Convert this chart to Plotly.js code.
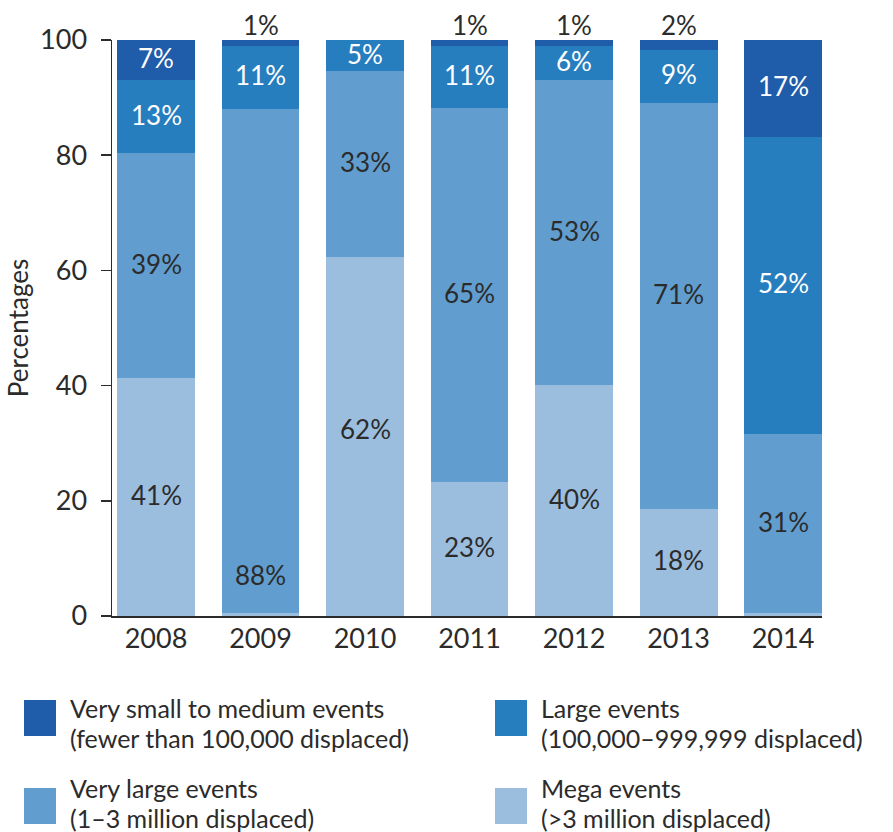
<!DOCTYPE html>
<html>
<head>
<meta charset="utf-8">
<script src="https://cdn.plot.ly/plotly-3.0.1.min.js"></script>
<style>html,body{margin:0;padding:0;background:#fff}#chart{width:893px;height:832px}</style>
</head>
<body>
<div id="chart"></div>
<script>
const years = ['2008','2009','2010','2011','2012','2013','2014'];
// measured segment heights (%)
const mega      = [41.3, 0.5, 62.3, 23.3, 40.1, 18.6, 0.5];
const veryLarge = [39.1, 87.5, 32.3, 64.9, 52.9, 70.5, 31.1];
const large     = [12.6, 11.0, 5.4, 10.8, 6.0, 9.2, 51.6];
const verySmall = [7.0, 1.0, 0, 1.0, 1.0, 1.7, 16.8];
// printed labels
const megaLbl      = ['41%', '', '62%', '23%', '40%', '18%', ''];
const veryLargeLbl = ['39%', '88%', '33%', '65%', '53%', '71%', '31%'];
const largeLbl     = ['13%', '11%', '5%', '11%', '6%', '9%', '52%'];
const verySmallLbl = ['7%', '1%', '', '1%', '1%', '2%', '17%'];

const seriesNames = ['Mega events', 'Very large events', 'Large events', 'Very small to medium events'];
const legendLine1 = ['Very small to medium events', 'Large events', 'Very large events', 'Mega events'];
const legendLine2 = ['(fewer than 100,000 displaced)', '(100,000\u2013999,999 displaced)', '(1\u20133 million displaced)', '(>3 million displaced)'];

const colors = {mega:'#9bbedf', vl:'#619ecf', large:'#267ebf', small:'#1f5caa'};
const FONT = 'Lato, "Liberation Sans", sans-serif';
const FS = 26;
const dark = '#2b2b2b';

const series = [
  {v: mega, l: megaLbl, c: colors.mega, tc: dark},
  {v: veryLarge, l: veryLargeLbl, c: colors.vl, tc: dark},
  {v: large, l: largeLbl, c: colors.large, tc: '#ffffff'},
  {v: verySmall, l: verySmallLbl, c: colors.small, tc: '#ffffff'}
];

const traces = series.map((s, i) => ({
  type: 'bar', x: years, y: s.v, name: seriesNames[i],
  marker: {color: s.c, line: {width: 0}}, showlegend: false, hoverinfo: 'skip'
}));

// label positions that sit off-centre in the original
const labelOverride = {'1-1': 6.8, '1-5': 55.6, '0-2': 32.1};
const annotations = [];
years.forEach((yr, j) => {
  let base = 0;
  series.forEach((s, i) => {
    const val = s.v[j];
    const txt = s.l[j];
    if (txt) {
      if (i === 3 && val < 3) {
        annotations.push({x: j, y: 100, xref:'x', yref:'y', text: txt, showarrow:false,
          yanchor:'bottom', yshift: -3, font:{family:FONT, size:FS, color:dark}});
      } else {
        const key = i + '-' + j;
        const yy = labelOverride[key] !== undefined ? labelOverride[key] : base + val/2;
        annotations.push({x: j, y: yy, xref:'x', yref:'y', text: txt, showarrow:false,
          yanchor:'middle', yshift: 2, font:{family:FONT, size:FS, color:s.tc}});
      }
    }
    base += val;
  });
});

// custom legend
const legColors = [colors.small, colors.large, colors.vl, colors.mega];
const W = 710, H = 576, L = 112, T = 40;
const px = x => (x - L) / W;
const py = y => (T + H - y) / H;
const shapes = [];
const legPos = [[24, 700], [495, 700], [24, 788], [495, 788]];
const LFS = 25;
legPos.forEach((p, k) => {
  shapes.push({type:'rect', xref:'paper', yref:'paper', x0: px(p[0]), x1: px(p[0]+32),
    y0: py(p[1]), y1: py(p[1]+36), fillcolor: legColors[k], line:{width:0}});
  const y1 = k < 2 ? p[1] + 8 : p[1];
  const y2 = y1 + 30;
  annotations.push({xref:'paper', yref:'paper', x: px(p[0]+44), y: py(y1), xanchor:'left', yanchor:'middle',
    text: legendLine1[k], showarrow:false, font:{family:FONT, size:LFS, color:dark}});
  annotations.push({xref:'paper', yref:'paper', x: px(p[0]+44), y: py(y2), xanchor:'left', yanchor:'middle',
    text: legendLine2[k], showarrow:false, font:{family:FONT, size:LFS, color:dark}});
});

const layout = {
  width: 893, height: 832,
  margin: {l: L, r: 893 - L - W, t: T, b: 832 - T - H, pad: 0},
  barmode: 'stack', bargap: 0.254,
  paper_bgcolor: '#ffffff', plot_bgcolor: '#ffffff',
  font: {family: FONT, size: FS, color: dark},
  xaxis: {type:'category', range: [-0.421, 6.373], showline: true, linecolor: dark, linewidth: 1.5,
    ticks: '', showgrid: false, zeroline: false, tickfont: {family: FONT, size: 27, color: dark},
    ticklabelstandoff: -2},
  yaxis: {range: [0, 100], dtick: 20, showline: true, linecolor: dark, linewidth: 1.5,
    ticks: 'outside', ticklen: 10, tickwidth: 1.5, tickcolor: dark, showgrid: false, zeroline: false,
    tickfont: {family: FONT, size: 27, color: dark}, ticklabelstandoff: 8,
    title: {text: 'Percentages', font: {family: FONT, size: 26, color: dark}, standoff: 4}},
  annotations: annotations,
  shapes: shapes
};

Plotly.newPlot('chart', traces, layout, {displayModeBar: false, staticPlot: true});
</script>
</body>
</html>
